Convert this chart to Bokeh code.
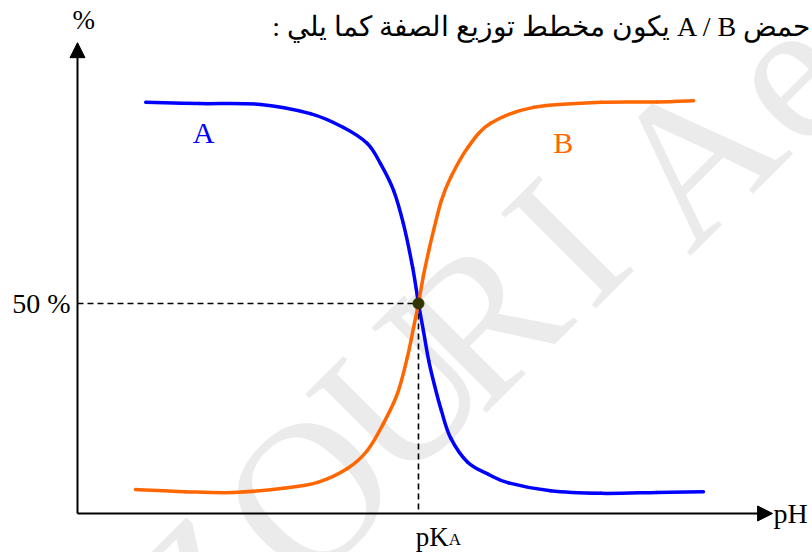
import math
from bokeh.plotting import figure
from bokeh.models import Range1d, Arrow, NormalHead, Label
from bokeh.core.properties import value
from bokeh.embed import file_html
from bokeh.resources import INLINE

# ---- data (pH, % of species) ----
ph_a = [1.40, 2.50, 3.76, 4.78, 5.46, 5.95, 6.22, 6.49, 6.69, 6.88, 7.00, 7.10, 7.21, 7.33,
        7.47, 7.66, 8.01, 8.44, 8.85, 9.71, 10.74, 11.89, 12.85]
pct_a = [97.9, 97.6, 97.4, 95.2, 91.9, 88.1, 83.3, 76.9, 69.0, 58.6, 50.0, 43.6, 36.4, 30.5,
         24.5, 18.0, 12.2, 9.3, 7.3, 5.4, 4.8, 5.0, 5.2]

ph_b = [1.19, 2.20, 3.20, 4.23, 4.93, 5.54, 5.95, 6.28, 6.57, 6.77, 6.90, 7.00, 7.10, 7.21,
        7.31, 7.47, 7.66, 8.01, 8.48, 9.36, 10.74, 11.89, 12.65]
pct_b = [5.7, 5.2, 5.0, 6.0, 7.4, 10.7, 15.0, 21.4, 28.6, 37.1, 44.3, 50.0, 56.5, 62.5,
         67.4, 74.5, 80.0, 87.1, 92.9, 96.7, 97.9, 98.0, 98.3]

pka = [7.0]
half = [50.0]

series_labels = ["A", "B"]
label_ph = [2.59, 9.97]
label_pct = [90.6, 88.3]

title_text = "\u202b" + "حمض  A / B  يكون مخطط توزيع الصفة كما يلي :" + "\u202c"

# watermark letters (pH, %) of their centres
wm_letters = ["O", "U", "R", "I", "A", "e"]
wm_ph = [4.72, 6.63, 8.27, 10.02, 12.63, 14.54]
wm_pct = [5.0, 29.3, 46.0, 65.0, 85.2, 104.3]

BLUE = "#0000ff"
ORANGE = "#ff6600"
SERIF = "Liberation Serif"
WM = "#ebebeb"


def smooth(xs, ys):
    """Catmull-Rom -> cubic Bezier control points through the read points."""
    n = len(xs)
    x0, y0, x1, y1, cx0, cy0, cx1, cy1 = [], [], [], [], [], [], [], []
    for i in range(n - 1):
        xm, ym = (xs[i - 1], ys[i - 1]) if i > 0 else (xs[i], ys[i])
        xp, yp = (xs[i + 2], ys[i + 2]) if i + 2 < n else (xs[i + 1], ys[i + 1])
        x0.append(xs[i]); y0.append(ys[i]); x1.append(xs[i + 1]); y1.append(ys[i + 1])
        cx0.append(xs[i] + (xs[i + 1] - xm) / 6.0)
        cy0.append(ys[i] + (ys[i + 1] - ym) / 6.0)
        cx1.append(xs[i + 1] - (xp - xs[i]) / 6.0)
        cy1.append(ys[i + 1] - (yp - ys[i]) / 6.0)
    return dict(x0=x0, y0=y0, x1=x1, y1=y1, cx0=cx0, cy0=cy0, cx1=cx1, cy1=cy1)


p = figure(width=812, height=552, output_backend="svg", toolbar_location=None,
           x_range=Range1d(-1.5808, 15.089), y_range=Range1d(-9.286, 122.143),
           x_axis_location=None, y_axis_location=None, min_border=0,
           background_fill_color="white", border_fill_color="white")
p.grid.visible = False
p.outline_line_color = None

# watermark
ang = math.radians(45)
p.text(x=wm_ph, y=wm_pct, text=wm_letters, angle=ang, text_align="center",
       text_baseline="middle", text_font=value(SERIF), text_font_size="205px",
       text_color=WM)
p.text(x=[3.43], y=[-8.8], text=["Z"], angle=ang, text_align="right",
       text_baseline="middle", text_font=value(SERIF), text_font_size="205px",
       text_color=WM)

# axes with arrows
p.add_layout(Arrow(end=NormalHead(size=15, fill_color="black", line_color="black"),
                   x_start=0, y_start=0, x_end=14.27, y_end=0, line_width=2, line_color="black"))
p.add_layout(Arrow(end=NormalHead(size=15, fill_color="black", line_color="black"),
                   x_start=0, y_start=0, x_end=0, y_end=112.1, line_width=2, line_color="black"))

# dashed guide lines
p.line(x=[0, pka[0]], y=[half[0], half[0]], line_color="black", line_width=1.6, line_dash="6 4")
p.line(x=[pka[0], pka[0]], y=[half[0], 0], line_color="black", line_width=1.6, line_dash="6 4")

# curves
p.bezier(**smooth(ph_a, pct_a), line_color=BLUE, line_width=3.5, line_cap="round")
p.bezier(**smooth(ph_b, pct_b), line_color=ORANGE, line_width=3.5, line_cap="round")

p.scatter(pka, half, size=11, fill_color="#333300", line_color="#333300")

# curve labels
p.text(x=label_ph, y=label_pct, text=series_labels, text_color=[BLUE, ORANGE],
       text_align="center", text_baseline="middle", text_font=value(SERIF),
       text_font_size="30px")

# axis texts
p.add_layout(Label(x=-0.14, y=50, text="50 %", text_align="right", text_baseline="middle",
                   text_font=SERIF, text_font_size="28px", text_color="black"))
p.add_layout(Label(x=0.13, y=117.4, text="%", text_align="center", text_baseline="middle",
                   text_font=SERIF, text_font_size="27px", text_color="black"))
p.add_layout(Label(x=14.29, y=0, text="pH", text_align="left", text_baseline="alphabetic",
                   text_font=SERIF, text_font_size="28px", text_color="black"))
p.add_layout(Label(x=7.62, y=-5.7, text="pK", text_align="right", text_baseline="alphabetic",
                   text_font=SERIF, text_font_size="27px", text_color="black"))
p.add_layout(Label(x=7.62, y=-6.2, text="A", text_align="left", text_baseline="alphabetic",
                   text_font=SERIF, text_font_size="17px", text_color="black"))

# Arabic heading
p.add_layout(Label(x=15.36, y=115.95, text=title_text, text_align="right",
                   text_baseline="alphabetic", text_font=SERIF, text_font_size="28px",
                   text_color="black"))

open("out.html", "w").write(file_html(p, INLINE))
